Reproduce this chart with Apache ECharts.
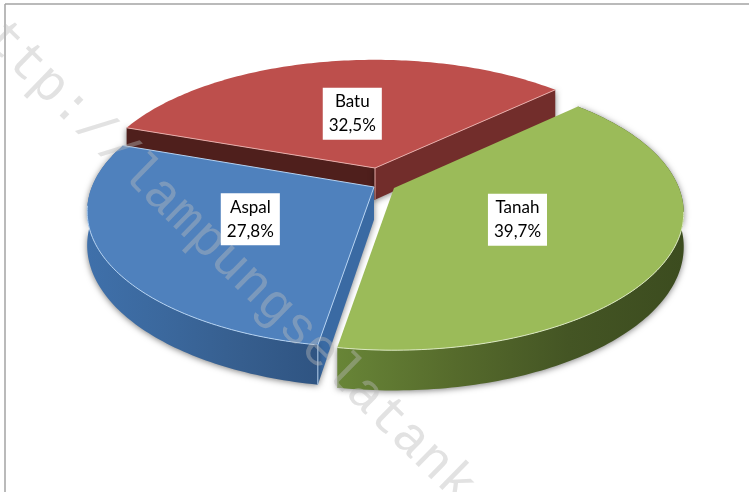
<!DOCTYPE html>
<html>
<head>
<meta charset="utf-8">
<style>
  html, body { margin: 0; padding: 0; background: #fff; }
  #main { width: 749px; height: 492px; }
</style>
<script src="https://cdn.jsdelivr.net/npm/echarts@6/dist/echarts.min.js"></script>
</head>
<body>
<div id="main"></div>
<script>
// clockwise from the first slice
const categories = ['Tanah', 'Aspal', 'Batu']
const values = [39.7, 27.8, 32.5]

// tilted pie: angle in degrees, 0 = back of the plate, clockwise
const startAngle = 46.5
const radiusX = 285
const radiusY = 133
const perspective = 0.18
const depth = 33
const labelRadius = 0.46

// exploded slices each have their own apex on screen
const sliceLook = {
  Tanah: {
    apex: [394, 188], scale: [1, 1], top: '#9bbb59', edge: '#dbe8c0',
    wall: ['#688537', '#566b2c', '#445524', '#3c4c1f'],
    frontEdge: [100, 190], radialStart: false, radialEnd: false,
    startWall: null, endWall: null, corner: null, labelShift: [3, 2]
  },
  Aspal: {
    apex: [374, 187], scale: [0.99, 0.99], top: '#4f81bd', edge: '#b4d2f2',
    wall: ['#3f70aa', '#3b689d', '#365e8e', '#2f5482'],
    frontEdge: [190, 262], radialStart: true, radialEnd: true,
    startWall: '#3a6aa3', endWall: null, corner: 'rim', labelShift: [-7, 0]
  },
  Batu: {
    apex: [375, 168], scale: [0.98, 0.96], top: '#bd4f4c', edge: '#e8aca9',
    wall: null,
    frontEdge: null, radialStart: true, radialEnd: true,
    startWall: '#4f1f1c', endWall: '#722d2b', corner: 'apex', labelShift: [2, -1]
  }
}
const drawOrder = ['Batu', 'Tanah', 'Aspal']

const total = values.reduce((a, b) => a + b, 0)
const wallShadow = { shadowBlur: 6, shadowColor: 'rgba(0,0,0,0.5)', shadowOffsetY: 1 }

function sliceAngles(name) {
  let a = startAngle
  for (let i = 0; i < categories.length; i++) {
    const span = values[i] / total * 360
    if (categories[i] === name) return [a, a + span]
    a += span
  }
}

// r in 0..1 of the radius, h 0 = top face, 1 = bottom face
function project(name, angle, r, h) {
  const look = sliceLook[name]
  const t = angle * Math.PI / 180
  const u = Math.sin(t) * r
  const v = Math.cos(t) * r
  const w = 1 + perspective * v
  return [
    look.apex[0] + look.scale[0] * radiusX * u / w,
    look.apex[1] + look.scale[1] * (-radiusY * v + depth * h) / w
  ]
}

function arcPoints(name, a, b, h) {
  const pts = []
  const steps = Math.ceil(Math.abs(b - a))
  for (let i = 0; i <= steps; i++) {
    pts.push(project(name, a + (b - a) * i / steps, 1, h))
  }
  return pts
}

function polygon(points, style) {
  return { type: 'polygon', shape: { points: points }, style: style }
}

function line(points, color) {
  return {
    type: 'polyline',
    shape: { points: points },
    style: { stroke: color, lineWidth: 1, fill: null }
  }
}

function radialWall(name, angle, color) {
  return polygon([
    project(name, angle, 0, 0),
    project(name, angle, 1, 0),
    project(name, angle, 1, 1),
    project(name, angle, 0, 1)
  ], Object.assign({ fill: color }, wallShadow))
}

function renderSlice(params, api) {
  const name = drawOrder[params.dataIndex]
  const look = sliceLook[name]
  const [a, b] = sliceAngles(name)
  const children = []

  if (look.startWall) children.push(radialWall(name, a, look.startWall))
  if (look.endWall) children.push(radialWall(name, b, look.endWall))

  if (look.wall) {
    const n = look.wall.length - 1
    children.push(polygon(
      arcPoints(name, a, b, 0).concat(arcPoints(name, b, a, 1)),
      Object.assign({
        fill: new echarts.graphic.LinearGradient(0, 0, 1, 0,
          look.wall.map((c, i) => ({ offset: i / n, color: c })))
      }, wallShadow)
    ))
  }

  const apex = project(name, a, 0, 0)
  children.push(polygon([apex].concat(arcPoints(name, a, b, 0)), { fill: look.top }))

  // only the rim that faces the viewer catches the light
  if (look.frontEdge) {
    children.push(line(arcPoints(name, look.frontEdge[0], Math.min(look.frontEdge[1], b), 0), look.edge))
  }
  if (look.radialStart) children.push(line([apex, project(name, a, 1, 0)], look.edge))
  if (look.radialEnd) children.push(line([apex, project(name, b, 1, 0)], look.edge))
  if (look.corner === 'rim') {
    children.push(line([project(name, a, 1, 0), project(name, a, 1, 1)], look.edge))
  } else if (look.corner === 'apex') {
    children.push(line([apex, project(name, a, 0, 1)], look.edge))
  }
  return { type: 'group', children: children }
}

function renderLabel(params, api) {
  const name = categories[params.dataIndex]
  const [a, b] = sliceAngles(name)
  const pos = project(name, (a + b) / 2, labelRadius, 0)
  const shift = sliceLook[name].labelShift
  return {
    type: 'text',
    style: {
      text: name + '\n' + api.value(0).toFixed(1).replace('.', ',') + '%',
      x: pos[0] + shift[0],
      y: pos[1] + shift[1],
      align: 'center',
      verticalAlign: 'middle',
      fill: '#000',
      font: '17px Lato',
      lineHeight: 24,
      backgroundColor: '#fff',
      padding: [2, 6, 2, 6]
    }
  }
}

const chart = echarts.init(document.getElementById('main'), null, { renderer: 'canvas' })
chart.setOption({
  animation: false,
  backgroundColor: '#fff',
  graphic: [
    { type: 'line', z: 1, shape: { x1: 5, y1: 4, x2: 749, y2: 4 }, style: { stroke: '#a3a3a3', lineWidth: 1.5 } },
    { type: 'line', z: 1, shape: { x1: 5, y1: 4, x2: 5, y2: 492 }, style: { stroke: '#a3a3a3', lineWidth: 1.5 } },
    {
      type: 'text',
      z: 5,
      x: -30,
      y: 8,
      rotation: -44.4 * Math.PI / 180,
      style: {
        text: 'http://lampungselatank',
        font: '52.7px "Liberation Mono"',
        fill: 'rgba(185,185,185,0.42)',
        verticalAlign: 'middle'
      }
    }
  ],
  series: [
    {
      type: 'custom',
      coordinateSystem: 'none',
      z: 2,
      silent: true,
      data: drawOrder.map(n => values[categories.indexOf(n)]),
      renderItem: renderSlice
    },
    {
      type: 'custom',
      coordinateSystem: 'none',
      z: 10,
      silent: true,
      data: values,
      renderItem: renderLabel
    }
  ]
})
</script>
</body>
</html>
